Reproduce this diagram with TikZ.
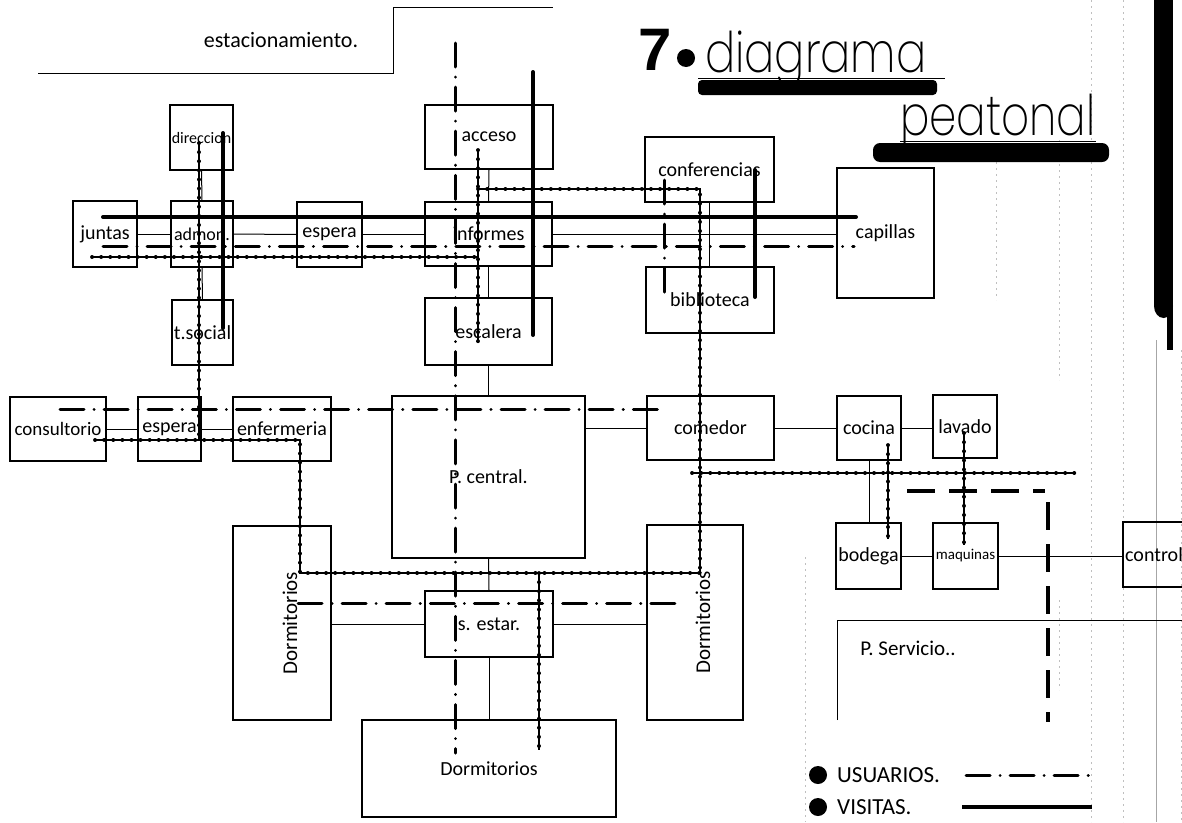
\documentclass[tikz,border=0pt]{standalone}
\usepackage{fontspec}
\setmainfont{Carlito}
\newfontfamily\titlefont{Poppins}[UprightFont={* ExtraLight}]
\newfontfamily\numfont{Liberation Sans}

\begin{document}
\begin{tikzpicture}[
    x=1pt, y=-1pt,
    room/.style={draw, line width=1.1pt, inner sep=1pt,
                 font=\fontsize{20}{22}\selectfont},
    lbl/.style={inner sep=1pt, font=\fontsize{20}{22}\selectfont},
    link/.style={line width=1pt},
    usr/.style={line width=3pt, line cap=round,
                dash pattern=on 24pt off 10pt on 0.1pt off 10pt},
    vis/.style={line width=4pt, line cap=round},
    bead/.style={line width=1.3pt,
                 postaction={draw, line width=3.8pt, line cap=round,
                             dash pattern=on 0.1pt off 9pt}},
    srvline/.style={line width=4pt, dash pattern=on 28pt off 14pt},
    guide/.style={gray!50, line width=0.7pt, dash pattern=on 2pt off 4pt}
  ]
  \useasboundingbox (0,0) rectangle (1182,822);

  % ruled guide lines of the sheet
  \draw[guide] (996,150) -- (996,300);
  \draw[guide] (1059,140) -- (1059,380) (1059,600) -- (1059,690);
  \draw[guide] (1091,0) -- (1091,822);
  \draw[guide] (1123,0) -- (1123,822);
  \draw[guide] (1181,350) -- (1181,822);
  \draw[guide] (805,557) -- (805,822);
  \draw[gray!70, line width=1pt] (1156,340) -- (1156,822);
  \fill (1154,-5) rectangle (1173,306);
  \fill (1163.5,306) ellipse (9.5pt and 12pt);
  \fill (1167,300) rectangle (1173,350);

  % title
  \node[anchor=base west, inner sep=0,
        font=\numfont\bfseries\fontsize{60}{60}\selectfont] (num) at (638,70) {7};
  \fill (686,58) circle (9pt);
  \node[anchor=base west, inner sep=0,
        font=\titlefont\fontsize{56}{56}\selectfont] (dia) at (705,72)
        {\scalebox{0.8}[1]{diagrama}};
  \node[anchor=base west, inner sep=0,
        font=\titlefont\fontsize{56}{56}\selectfont] (pea) at (900,135)
        {\scalebox{0.78}[1]{peatonal}};
  \draw[line width=1pt] (698,78) -- (945,78);
  \fill[rounded corners=4pt] (698,80) rectangle (937,95);
  \draw[line width=1pt] (900,141) -- (1096,141);
  \fill[rounded corners=7pt] (873,143) rectangle (1109,162);

  % parking and service yard
  \node[lbl, font=\fontsize{22}{24}\selectfont] (park) at (281,40) {estacionamiento.};
  \draw[link] (38,73) -- (393,73) -- (393,7) -- (553,7);
  \node[lbl, font=\fontsize{21}{23}\selectfont] (srv) at (908,648) {P. Servicio..};
  \coordinate (srvc) at (837,620);
  \draw[link] (srvc |- 0,720) -- (srvc) -- (1190,620);

  % rooms
  \node[room, minimum width=63, minimum height=65] (dir) at (201.5,137.5)
       {\fontsize{16}{18}\selectfont direccion};
  \node[room, minimum width=128, minimum height=64] (acc) at (489,137) {acceso};
  \node[room, minimum width=64, minimum height=66] (jun) at (105,234) {juntas};
  \node[room, minimum width=62, minimum height=66] (adm) at (202,234)
       {\fontsize{18}{20}\selectfont admon.};
  \node[room, minimum width=65, minimum height=65] (esp1) at (329.5,234.5) {espera};
  \node[room, minimum width=127, minimum height=64] (inf) at (488.5,234) {informes};
  \node[room, minimum width=61, minimum height=65] (tso) at (202.5,332.5) {t.social};
  \node[room, minimum width=127, minimum height=67] (esc) at (488.5,331.5) {escalera};
  \node[room, minimum width=129, minimum height=65] (conf) at (709.5,169.5) {conferencias};
  \node[room, minimum width=128, minimum height=66] (bib) at (710,300) {biblioteca};
  \node[room, minimum width=97, minimum height=130] (cap) at (885.5,233) {capillas};
  \node[room, minimum width=96, minimum height=64] (cons) at (58,429)
       {\fontsize{19}{21}\selectfont consultorio};
  \node[room, minimum width=63, minimum height=64] (esp2) at (169.5,429) {espera};
  \node[room, minimum width=98, minimum height=64] (enf) at (282,429) {enfermeria};
  \node[room, minimum width=193, minimum height=162] (cen) at (488.5,477) {P. central.};
  \node[room, minimum width=127, minimum height=64] (com) at (710.5,428) {comedor};
  \node[room, minimum width=64, minimum height=64] (coc) at (869,428) {cocina};
  \node[room, minimum width=64, minimum height=63] (lav) at (965,426.5) {lavado};
  \node[room, minimum width=98, minimum height=194] (dorL) at (282,623)
       {\hspace*{16pt}\rotatebox{90}{\fontsize{21}{23}\selectfont Dormitorios}};
  \node[room, minimum width=96, minimum height=195] (dorR) at (695,622.5)
       {\hspace*{16pt}\rotatebox{90}{\fontsize{21}{23}\selectfont Dormitorios}};
  \node[room, minimum width=128, minimum height=66] (est) at (489,624) {s. estar.};
  \node[room, minimum width=254, minimum height=97] (dorB) at (489,768.5) {Dormitorios};
  \node[room, minimum width=65, minimum height=66] (bod) at (868.5,556) {bodega};
  \node[room, minimum width=65, minimum height=66] (maq) at (965.5,556)
       {\fontsize{15}{17}\selectfont maquinas};
  \node[room, minimum width=62, minimum height=65] (ctl) at (1154,554.5) {control};

  % room links
  \draw[link] (dir.south) -- (adm.north);
  \draw[link] (adm.south) -- (tso.north);
  \draw[link] (jun.east) -- (adm.west);
  \draw[link] (adm.east) -- (esp1.west);
  \draw[link] (esp1.east) -- (esp1.east -| inf.west);
  \draw[link] (inf.east) -- (inf.east -| cap.west);
  \draw[link] (acc.south) -- (inf.north);
  \draw[link] (inf.south) -- (esc.north);
  \draw[link] (esc.south) -- (cen.north);
  \draw[link] (conf.south) -- (conf.south |- bib.north);
  \draw[link] (cons.east) -- (esp2.west);
  \draw[link] (esp2.east) -- (enf.west);
  \draw[link] (com.west) -- (com.west -| cen.east);
  \draw[link] (com.east) -- (coc.west);
  \draw[link] (coc.east) -- (coc.east -| lav.west);
  \draw[link] (coc.south) -- (coc.south |- bod.north);
  \draw[link] (bod.east) -- (maq.west);
  \draw[link] (maq.east) -- (maq.east -| ctl.west);
  \draw[link] (cen.south) -- (est.north);
  \draw[link] (est.south) -- (dorB.north);
  \draw[link] (est.west) -- (est.west -| dorL.east);
  \draw[link] (est.east) -- (est.east -| dorR.west);

  % usuarios
  \coordinate (u1a) at (103,246);  \coordinate (u1b) at (854,246);
  \coordinate (u2a) at (455,43);   \coordinate (u2b) at (455,753);
  \coordinate (u3a) at (60,409);   \coordinate (u3b) at (658,409);
  \coordinate (u4a) at (298,603);  \coordinate (u4b) at (682,603);
  \coordinate (u5a) at (664,180);  \coordinate (u5b) at (664,297);
  \draw[usr] (u1a) -- (u1b);
  \draw[usr] (u2a) -- (u2b);
  \draw[usr] (u3a) -- (u3b);
  \draw[usr] (u4a) -- (u4b);
  \draw[usr] (u5a) -- (u5b);

  % visitas
  \coordinate (v1a) at (103,217);  \coordinate (v1b) at (856,217);
  \coordinate (v2a) at (223,133);  \coordinate (v2b) at (223,328);
  \coordinate (v3a) at (533,72);   \coordinate (v3b) at (533,335);
  \coordinate (v4a) at (755,170);  \coordinate (v4b) at (755,297);
  \draw[vis] (v1a) -- (v1b);
  \draw[vis] (v2a) -- (v2b);
  \draw[vis] (v3a) -- (v3b);
  \draw[vis] (v4a) -- (v4b);

  % personal
  \coordinate (d1) at (92,257);   \coordinate (d2) at (478,257);
  \coordinate (d3) at (478,150);  \coordinate (d4) at (478,342);
  \coordinate (d5) at (478,189);  \coordinate (d6) at (700,189);
  \coordinate (d7) at (700,573);  \coordinate (d8) at (199,143);
  \coordinate (d9) at (199,440);  \coordinate (d10) at (95,440);
  \coordinate (d11) at (300,440); \coordinate (d12) at (300,573);
  \coordinate (d13) at (539,573); \coordinate (d14) at (539,750);
  \coordinate (d15) at (692,473); \coordinate (d16) at (1075,473);
  \coordinate (d17) at (888,445); \coordinate (d18) at (888,539);
  \coordinate (d19) at (964,433); \coordinate (d20) at (964,545);
  \draw[bead] (d1) -- (d2);
  \draw[bead] (d3) -- (d4);
  \draw[bead] (d5) -- (d6) -- (d7);
  \draw[bead] (d8) -- (d9);
  \draw[bead] (d10) -- (d11) -- (d12) -- (d7);
  \draw[bead] (d13) -- (d14);
  \draw[bead] (d15) -- (d16);
  \draw[bead] (d17) -- (d18);
  \draw[bead] (d19) -- (d20);

  % servicio
  \coordinate (s1) at (907,491);  \coordinate (s2) at (1045,491);
  \coordinate (s3) at (1048,502); \coordinate (s4) at (1048,722);
  \draw[srvline] (s1) -- (s2);
  \draw[srvline] (s3) -- (s4);

  % key
  \fill (818,775) circle (9pt);
  \fill (818,807) circle (9pt);
  \node[lbl, anchor=west, font=\fontsize{23}{25}\selectfont] (usrkey) at (836,775) {USUARIOS.};
  \node[lbl, anchor=west, font=\fontsize{23}{25}\selectfont] (viskey) at (836,807) {VISITAS.};
  \coordinate (usrend) at (1092,775);
  \coordinate (visend) at (1092,807);
  \draw[usr] (966,775) -- (usrend);
  \draw[vis, line cap=butt] (962,807) -- (visend);
\end{tikzpicture}
\end{document}
